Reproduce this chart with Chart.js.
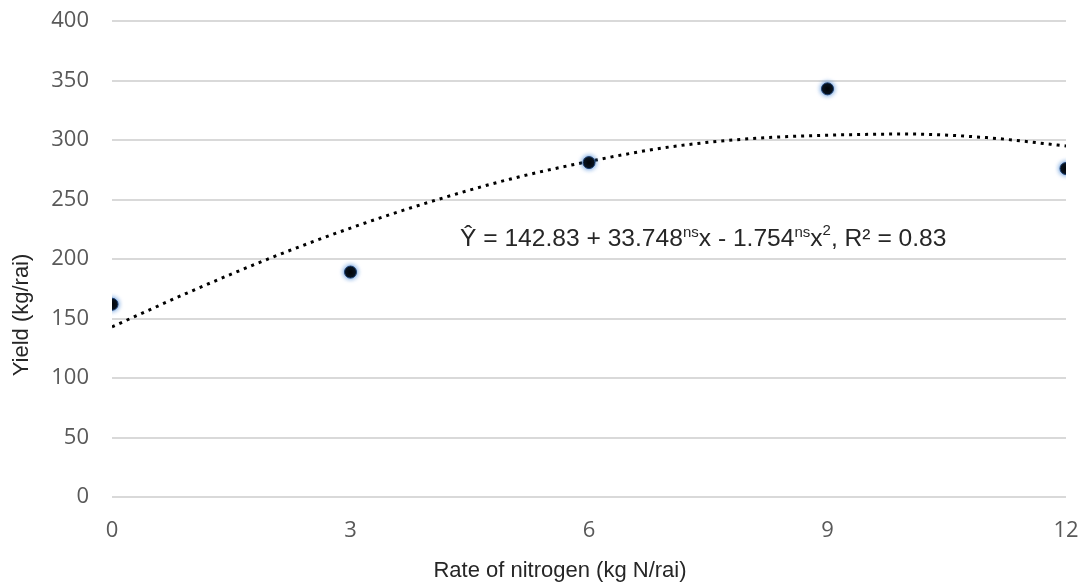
<!DOCTYPE html>
<html>
<head>
<meta charset="utf-8">
<script src="https://cdn.jsdelivr.net/npm/chart.js@4.4.0/dist/chart.umd.min.js"></script>
<style>
  html, body { margin: 0; padding: 0; background: #ffffff; }
  #wrap { width: 1084px; height: 585px; position: relative; }
</style>
</head>
<body>
<div id="wrap"><canvas id="c" width="1084" height="585"></canvas></div>
<script>
// Observed data
const nitrogenRates = [0, 3, 6, 9, 12];
const yieldValues = [162, 189, 281, 343, 276];

// Dotted trend curve
const trendX = [0, 1, 2, 3, 4, 5, 6, 7, 8, 9, 10, 11, 12];
const trendY = [143, 173, 201, 226, 248, 267, 282, 294, 301, 304, 305, 302, 295];

const yTicks = [0, 50, 100, 150, 200, 250, 300, 350, 400];
const xTicks = [0, 3, 6, 9, 12];

const xTitle = 'Rate of nitrogen (kg N/rai)';
const yTitle = 'Yield (kg/rai)';

const glowPlugin = {
  id: 'glowPlugin',
  beforeDatasetDraw(chart, args) {
    if (args.index === 0) {
      chart.ctx.save();
      chart.ctx.shadowColor = 'rgba(50,120,210,0.95)';
      chart.ctx.shadowBlur = 5;
    }
  },
  afterDatasetDraw(chart, args) {
    if (args.index === 0) chart.ctx.restore();
  }
};

const textPlugin = {
  id: 'textPlugin',
  afterDraw(chart) {
    const ctx = chart.ctx;
    // y axis title
    ctx.save();
    ctx.fillStyle = '#262626';
    ctx.font = '22px "Liberation Sans", Arial, sans-serif';
    ctx.textAlign = 'center';
    ctx.textBaseline = 'middle';
    ctx.translate(22, 315);
    ctx.rotate(-Math.PI / 2);
    ctx.fillText(yTitle, 0, 0);
    ctx.restore();

    // x axis title
    ctx.save();
    ctx.fillStyle = '#262626';
    ctx.font = '22px "Liberation Sans", Arial, sans-serif';
    ctx.textAlign = 'center';
    ctx.textBaseline = 'alphabetic';
    ctx.fillText(xTitle, 560, 577);
    ctx.restore();

    // equation
    ctx.save();
    ctx.fillStyle = '#262626';
    ctx.textAlign = 'left';
    ctx.textBaseline = 'alphabetic';
    const big = '24.6px "Liberation Sans", Arial, sans-serif';
    const small = '15px "Liberation Sans", Arial, sans-serif';
    const parts = [
      ['\u0176', big, 0],
      [' = 142.83 + 33.748', big, 0],
      ['ns', small, -9],
      ['x - 1.754', big, 0],
      ['ns', small, -9],
      ['x', big, 0],
      ['2', small, -11],
      [', R\u00b2 = 0.83', big, 0]
    ];
    let x = 460;
    const base = 246;
    for (const [t, f, dy] of parts) {
      ctx.font = f;
      ctx.fillText(t, x, base + dy);
      x += ctx.measureText(t).width;
    }
    ctx.restore();
  }
};

new Chart(document.getElementById('c'), {
  type: 'scatter',
  data: {
    datasets: [
      {
        label: 'Yield',
        data: nitrogenRates.map((v, i) => ({ x: v, y: yieldValues[i] })),
        pointRadius: 6,
        pointBackgroundColor: '#000000',
        pointBorderColor: '#1d3f70',
        pointBorderWidth: 1,
        order: 1
      },
      {
        label: 'Trend',
        type: 'line',
        data: trendX.map((v, i) => ({ x: v, y: trendY[i] })),
        borderColor: '#000000',
        borderWidth: 3,
        borderDash: [3, 5],
        pointRadius: 0,
        cubicInterpolationMode: 'monotone',
        fill: false,
        order: 2
      }
    ]
  },
  options: {
    responsive: false,
    animation: false,
    devicePixelRatio: 1,
    layout: { padding: { top: 21, right: 18, left: 0, bottom: 0 } },
    plugins: { legend: { display: false }, tooltip: { enabled: false } },
    scales: {
      x: {
        type: 'linear',
        min: 0,
        max: 12,
        afterBuildTicks(scale) { scale.ticks = xTicks.map(v => ({ value: v })); },
        afterFit(scale) { scale.height = 88; scale.paddingLeft = 0; scale.paddingRight = 0; },
        grid: { display: false, drawTicks: false },
        border: { display: false },
        ticks: {
          color: '#595959',
          padding: 21,
          font: { family: '"Open Sans", sans-serif', size: 22 }
        }
      },
      y: {
        type: 'linear',
        min: 0,
        max: 400,
        afterBuildTicks(scale) { scale.ticks = yTicks.map(v => ({ value: v })); },
        afterFit(scale) { scale.width = 112; scale.paddingTop = 0; scale.paddingBottom = 0; },
        grid: { color: '#d9d9d9', lineWidth: 2, drawTicks: false },
        border: { display: false },
        ticks: {
          color: '#595959',
          padding: 23,
          font: { family: '"Open Sans", sans-serif', size: 22 }
        }
      }
    }
  },
  plugins: [glowPlugin, textPlugin]
});
</script>
</body>
</html>
